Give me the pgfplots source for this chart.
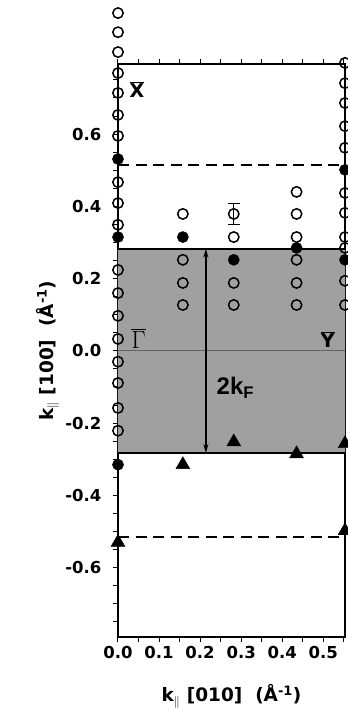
\documentclass[border=0pt]{standalone}
\usepackage{fontspec}
\setmainfont{Liberation Sans}
\newfontfamily\dvs{DejaVu Sans}
\usepackage{pgfplots}
\pgfplotsset{compat=1.18}
\usetikzlibrary{calc,arrows.meta}
\definecolor{shade}{RGB}{160,160,160}
\definecolor{zline}{RGB}{100,100,100}
\newcommand\tl[1]{{\fontsize{16.5}{18}\selectfont\dvs\bfseries #1}}

\begin{document}
\begin{tikzpicture}
\begin{axis}[
  scale only axis, width=227pt, height=573pt,
  xmin=0, xmax=0.553, ymin=-0.792, ymax=0.794,
  clip=false,
  axis line style={line width=1.4pt},
  tick align=outside,
  xtick pos=both, ytick pos=left,
  xtick={0,0.1,0.2,0.3,0.4,0.5},
  xticklabels={\tl{0.0},\tl{0.1},\tl{0.2},\tl{0.3},\tl{0.4},\tl{0.5}},
  minor xtick={0.05,0.15,0.25,0.35,0.45,0.55},
  ytick={-0.6,-0.4,-0.2,0,0.2,0.4,0.6},
  yticklabels={\tl{-0.6},\tl{-0.4},\tl{-0.2},\tl{0.0},\tl{0.2},\tl{0.4},\tl{0.6}},
  minor ytick={-0.75,-0.7,-0.65,-0.55,-0.5,-0.45,-0.35,-0.3,-0.25,-0.15,-0.1,-0.05,0.05,0.1,0.15,0.25,0.3,0.35,0.45,0.5,0.55,0.65,0.7,0.75},
  major tick length=5pt, minor tick length=5pt,
  every tick/.append style={black, line width=1pt},
  yticklabel style={xshift=-8pt},
  xticklabel style={yshift=-1pt},
  xlabel={k$_{\|}$ [010]\ \ (Å\textsuperscript{-1})},
  ylabel={k$_{\|}$ [100]\ \ (Å\textsuperscript{-1})},
  label style={font=\fontsize{18.5}{20}\selectfont\dvs\bfseries},
  xlabel style={at={(axis description cs:0.5,-0.1134)}, anchor=base},
  ylabel style={at={(axis description cs:-0.2863,0.5)}, anchor=base},
  open/.style={only marks, mark=o, mark size=5.2pt, mark options={line width=1.5pt, fill=none}},
  filled/.style={only marks, mark=*, mark size=5.6pt, mark options={fill=black}},
  tri/.style={only marks, mark=triangle*, mark size=8pt, mark options={fill=black}},
]
\coordinate (SW) at (rel axis cs:0,0);
\coordinate (NE) at (rel axis cs:1,1);
% shaded Fermi region
\addplot[fill=shade, draw=none] coordinates {(0,-0.283) (0.553,-0.283) (0.553,0.283) (0,0.283) (0,-0.283)};
\addplot[zline, line width=0.8pt] coordinates {(0,0) (0.553,0)};
\addplot[black, line width=2pt] coordinates {(0,0.283) (0.553,0.283)};
\addplot[black, line width=2pt] coordinates {(0,-0.283) (0.553,-0.283)};
\addplot[black, line width=1.8pt, dash pattern=on 11pt off 6.5pt] coordinates {(0,0.515) (0.553,0.515)};
\addplot[black, line width=1.8pt, dash pattern=on 11pt off 6.5pt] coordinates {(0,-0.515) (0.553,-0.515)};
\addplot[black, line width=1.4pt, <->, >={Stealth[length=9pt,width=5pt]}] coordinates {(0.214,-0.283) (0.214,0.283)};
% open circles
\addplot[open] coordinates {
(0,0.935) (0,0.882) (0,0.827) (0,0.769) (0,0.714) (0,0.653) (0,0.595) (0,0.467) (0,0.409) (0,0.349)
(0,0.224) (0,0.160) (0,0.097) (0,0.033) (0,-0.030) (0,-0.089) (0,-0.158) (0,-0.221)
(0.158,0.379) (0.158,0.252) (0.158,0.188) (0.158,0.127)
(0.282,0.315) (0.282,0.188) (0.282,0.127)
(0.435,0.440) (0.435,0.379) (0.435,0.315) (0.435,0.252) (0.435,0.188) (0.435,0.127)
(0.553,0.797) (0.553,0.741) (0.553,0.686) (0.553,0.622) (0.553,0.562) (0.553,0.437) (0.553,0.382)
(0.553,0.315) (0.553,0.285) (0.553,0.194) (0.553,0.127)
};
\addplot[open, error bars/.cd, y dir=both, y explicit,
  error bar style={line width=1pt},
  error mark options={rotate=90, mark size=6pt, line width=1pt}]
  coordinates {(0.282,0.379) +- (0,0.029)};
% filled circles
\addplot[filled] coordinates {
(0,0.531) (0,0.315) (0,-0.315)
(0.158,0.315) (0.282,0.252) (0.435,0.285)
(0.553,0.501) (0.553,0.252)
};
% triangles
\addplot[tri] coordinates {
(0,-0.530) (0.158,-0.315) (0.282,-0.252) (0.435,-0.285) (0.553,-0.257) (0.553,-0.498)
};
% symmetry point labels
\node[font=\fontsize{19}{21}\selectfont\dvs\bfseries] at (axis cs:0.046,0.722) {$\overline{\mbox{X}}$};
\node[font=\fontsize{23}{25}\selectfont] at (axis cs:0.050,0.034) {$\overline{\Gamma}$};
\node[font=\fontsize{19}{21}\selectfont\dvs\bfseries] at (axis cs:0.511,0.032) {$\overline{\mbox{Y}}$};
\node[font=\fontsize{24}{26}\selectfont\bfseries, anchor=base west, inner sep=0pt] at (axis cs:0.240,-0.122) {2k\textsubscript{F}};
\end{axis}
\pgfresetboundingbox
\path[use as bounding box] ($(SW)+(-118pt,-71pt)$) rectangle ($(NE)+(2pt,64pt)$);
\end{tikzpicture}
\end{document}
